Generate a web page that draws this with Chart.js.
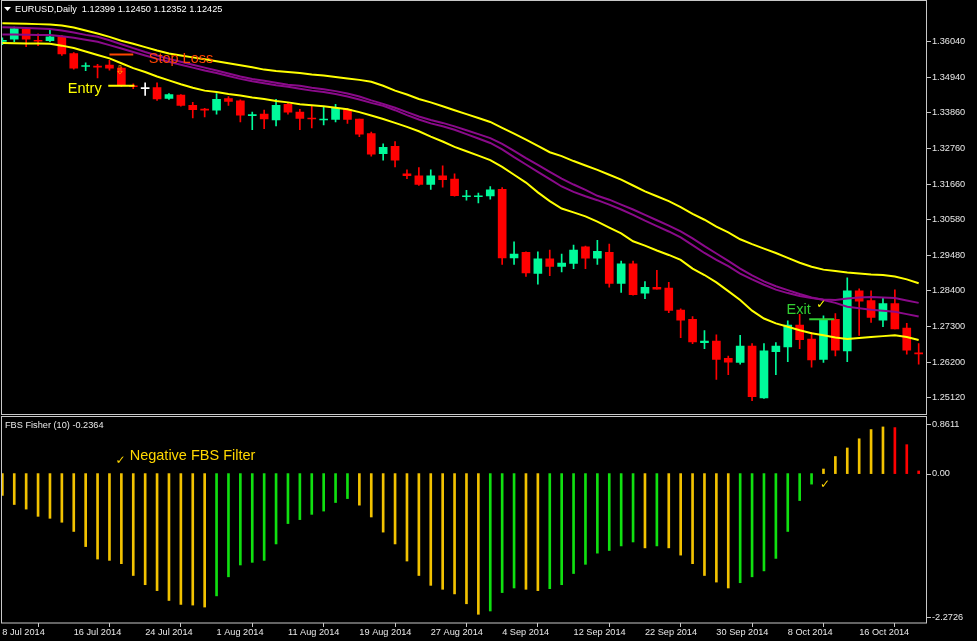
<!DOCTYPE html>
<html>
<head>
<meta charset="utf-8">
<script src="https://cdn.jsdelivr.net/npm/chart.js@4.4.0/dist/chart.umd.min.js"></script>
<style>
  html, body { margin: 0; padding: 0; background: #000; }
  #wrap { position: relative; width: 977px; height: 641px; background: #000; overflow: hidden; }
  canvas { position: absolute; left: 0; }
  #priceChart { top: 0; }
  #fisherChart { top: 415px; }
</style>
</head>
<body>
<div id="wrap">
  <canvas id="priceChart" width="977" height="416"></canvas>
  <canvas id="fisherChart" width="977" height="226"></canvas>
</div>
<script>
// EURUSD daily candles, 8 Jul 2014 - 23 Oct 2014 (one entry per bar)
const openP = [
  1.3604, 1.36105, 1.3642, 1.3606, 1.3606, 1.3618, 1.3567, 1.35271, 1.3528, 1.3531,
  1.3522, 1.3468, 1.3459, 1.3462, 1.3429, 1.34395, 1.3408, 1.3396, 1.3393, 1.3429,
  1.34215, 1.33765, 1.3381, 1.3363, 1.3411, 1.3387, 1.3369, 1.3363, 1.33645, 1.3396,
  1.3366, 1.3321, 1.32595, 1.3282, 1.3198, 1.3192, 1.3165, 1.3192, 1.31815, 1.31275,
  1.31275, 1.31299, 1.3150, 1.2940, 1.29571, 1.2892, 1.2937, 1.29139, 1.29229, 1.29739,
  1.29391, 1.29571, 1.2862, 1.2922, 1.2832, 1.2850, 1.2847, 1.27801, 1.27519, 1.26799,
  1.2685, 1.26319, 1.2619, 1.26691, 1.25101, 1.2652, 1.2667, 1.27339, 1.2691, 1.26289,
  1.27519, 1.2655, 1.28389, 1.28089, 1.27489, 1.27999, 1.2725, 1.2649
];
const highP = [
  1.3615, 1.3648, 1.3645, 1.3627, 1.3639, 1.36225, 1.3570, 1.35385, 1.3534, 1.3546,
  1.3525, 1.3474, 1.3477, 1.3477, 1.3444, 1.3441, 1.3417, 1.3399, 1.3444, 1.3435,
  1.34245, 1.3387, 1.3393, 1.3426, 1.3414, 1.3396, 1.3408, 1.3402, 1.3411, 1.3399,
  1.3366, 1.33255, 1.32895, 1.3297, 1.3210, 1.32169, 1.3210, 1.3222, 1.3198, 1.3147,
  1.31389, 1.3159, 1.3156, 1.29889, 1.29589, 1.29589, 1.2964, 1.2952, 1.2979, 1.2976,
  1.2994, 1.2982, 1.29301, 1.29301, 1.28671, 1.29019, 1.2865, 1.2784, 1.2760, 1.27171,
  1.27039, 1.26391, 1.27021, 1.26769, 1.26769, 1.26799, 1.27471, 1.27669, 1.2712, 1.27621,
  1.2769, 1.28791, 1.28449, 1.28389, 1.28191, 1.28419, 1.2739, 1.26769
];
const lowP = [
  1.3594, 1.3603, 1.3588, 1.3591, 1.3603, 1.3561, 1.3519, 1.35145, 1.3492, 1.3516,
  1.3465, 1.3459, 1.3438, 1.3423, 1.3426, 1.3405, 1.3369, 1.3372, 1.3381, 1.3408,
  1.3357, 1.3333, 1.3336, 1.3345, 1.3381, 1.3333, 1.3339, 1.3348, 1.3357, 1.33525,
  1.3312, 1.3252, 1.3240, 1.3219, 1.3183, 1.3162, 1.3150, 1.31569, 1.3129, 1.3117,
  1.31089, 1.3120, 1.29199, 1.29199, 1.2883, 1.2859, 1.28851, 1.28971, 1.2907, 1.2907,
  1.29199, 1.2850, 1.28341, 1.2826, 1.28149, 1.2844, 1.2772, 1.26949, 1.26769, 1.26619,
  1.25671, 1.25821, 1.26139, 1.2502, 1.25089, 1.25821, 1.2622, 1.26619, 1.26049, 1.2619,
  1.26391, 1.2622, 1.27021, 1.2742, 1.27291, 1.2722, 1.26449, 1.26139
];
const closeP = [
  1.3606, 1.36435, 1.36105, 1.36045, 1.3618, 1.35655, 1.3522, 1.35295, 1.3525, 1.3522,
  1.3468, 1.3465, 1.3459, 1.34275, 1.3441, 1.3408, 1.33945, 1.3393, 1.3426, 1.3420,
  1.3378, 1.33795, 1.3366, 1.3408, 1.3387, 1.33675, 1.3366, 1.3366, 1.3399, 1.33645,
  1.33195, 1.3258, 1.3279, 1.3240, 1.3192, 1.3165, 1.3192, 1.3180, 1.31305, 1.31305,
  1.31305, 1.31491, 1.2940, 1.2952, 1.28941, 1.2937, 1.29139, 1.29241, 1.2964, 1.29391,
  1.29601, 1.2862, 1.2922, 1.28269, 1.2850, 1.2844, 1.27789, 1.27489, 1.2682, 1.2685,
  1.26289, 1.26199, 1.26691, 1.2514, 1.2655, 1.26691, 1.27339, 1.26889, 1.26271, 1.27519,
  1.26571, 1.28389, 1.28071, 1.2757, 1.27999, 1.2722, 1.26569, 1.26451
];

// moving average lines (yellow band + two purple averages)
const yellowUpper = [
  1.3660, 1.36591, 1.36582, 1.3657, 1.36555, 1.36525, 1.36465, 1.36375, 1.36285, 1.3618,
  1.3606, 1.3597, 1.35865, 1.3576, 1.3567, 1.3561, 1.3555, 1.3549, 1.3543, 1.3537,
  1.3531, 1.3525, 1.35175, 1.3513, 1.3510, 1.3507, 1.35025, 1.34995, 1.3495, 1.34905,
  1.3486, 1.3480, 1.3468, 1.3453, 1.3441, 1.34275, 1.3417, 1.3405, 1.3393, 1.3381,
  1.3369, 1.3357, 1.3339, 1.3321, 1.3303, 1.32835, 1.3264, 1.3252, 1.3237, 1.32235,
  1.3210, 1.3195, 1.3180, 1.3162, 1.3144, 1.3129, 1.3114, 1.3096, 1.3075, 1.3057,
  1.3036, 1.3018, 1.2997, 1.2982, 1.29685, 1.2955, 1.2940, 1.2925, 1.2913, 1.2904,
  1.28995, 1.2895, 1.2892, 1.2889, 1.28875, 1.2883, 1.2874, 1.2862
];
const yellowLower = [
  1.35991, 1.35985, 1.35979, 1.35976, 1.3597, 1.3591, 1.35835, 1.3573, 1.35625, 1.3552,
  1.3537, 1.3522, 1.3510, 1.34965, 1.34845, 1.34725, 1.3462, 1.3453, 1.34485, 1.34425,
  1.3438, 1.3432, 1.34275, 1.34215, 1.3417, 1.3411, 1.3408, 1.3405, 1.34005, 1.3396,
  1.3387, 1.33765, 1.3366, 1.3354, 1.3342, 1.33285, 1.3312, 1.3297, 1.32805, 1.3267,
  1.32535, 1.3240, 1.3219, 1.3195, 1.3171, 1.3141, 1.3114, 1.30915, 1.30795, 1.30675,
  1.3051, 1.3033, 1.3015, 1.2991, 1.29775, 1.29625, 1.2949, 1.2934, 1.2907, 1.28875,
  1.2865, 1.2838, 1.2811, 1.2778, 1.2754, 1.2739, 1.27285, 1.2718, 1.2709, 1.2703,
  1.26955, 1.2691, 1.2694, 1.2697, 1.2700, 1.2703, 1.2697, 1.2688
];
const purpleSlow = [
  1.36471, 1.36465, 1.3645, 1.36435, 1.3642, 1.36375, 1.36315, 1.3624, 1.3618, 1.36075,
  1.35955, 1.35835, 1.35715, 1.3561, 1.35505, 1.35415, 1.35325, 1.35235, 1.35145, 1.35055,
  1.34965, 1.3489, 1.3483, 1.3477, 1.3471, 1.3468, 1.3462, 1.34575, 1.34515, 1.3444,
  1.3435, 1.3423, 1.34125, 1.34005, 1.3387, 1.33735, 1.3363, 1.3354, 1.33435, 1.33315,
  1.33195, 1.33075, 1.32895, 1.32685, 1.3246, 1.3225, 1.3204, 1.3183, 1.3165, 1.31485,
  1.31305, 1.31185, 1.31035, 1.30885, 1.3072, 1.30555, 1.3039, 1.3021, 1.3000, 1.2976,
  1.29535, 1.2931, 1.2907, 1.2886, 1.2868, 1.2853, 1.2841, 1.2829, 1.28185, 1.2811,
  1.2802, 1.2790, 1.27855, 1.2781, 1.2778, 1.2775, 1.27675, 1.2760
];
const purpleFast = [
  1.36255, 1.36255, 1.36246, 1.3624, 1.3624, 1.36195, 1.3615, 1.3609, 1.3603, 1.35925,
  1.3582, 1.35715, 1.3561, 1.35505, 1.35415, 1.35325, 1.35235, 1.35145, 1.3507, 1.3498,
  1.3489, 1.34815, 1.34755, 1.34695, 1.3465, 1.3459, 1.3453, 1.34485, 1.34425, 1.3435,
  1.3426, 1.34155, 1.34065, 1.3393, 1.3378, 1.33645, 1.33525, 1.33435, 1.3333, 1.33195,
  1.3306, 1.32925, 1.3273, 1.3249, 1.32265, 1.3204, 1.31815, 1.3159, 1.31425, 1.3129,
  1.3117, 1.31035, 1.30885, 1.3072, 1.3054, 1.30375, 1.3021, 1.3003, 1.2979, 1.2955,
  1.2934, 1.29145, 1.2892, 1.2874, 1.28575, 1.28425, 1.2832, 1.2823, 1.2817, 1.28125,
  1.2811, 1.28155, 1.28185, 1.2820, 1.28185, 1.2817, 1.28095, 1.2802
];

// FBS Fisher histogram and its colour state (Y = yellow, G = green, R = red)
const fisher = [
  -0.33, -0.47, -0.54, -0.65, -0.68, -0.74, -0.88, -1.11, -1.30, -1.32,
  -1.37, -1.55, -1.69, -1.78, -1.93, -1.99, -2.00, -2.03, -1.86, -1.57,
  -1.39, -1.35, -1.32, -1.07, -0.76, -0.70, -0.62, -0.57, -0.44, -0.38,
  -0.48, -0.66, -0.89, -1.07, -1.33, -1.55, -1.70, -1.76, -1.83, -1.98,
  -2.14, -2.09, -1.81, -1.74, -1.76, -1.78, -1.75, -1.69, -1.52, -1.38,
  -1.21, -1.17, -1.10, -1.04, -1.13, -1.10, -1.13, -1.24, -1.37, -1.55,
  -1.65, -1.74, -1.66, -1.57, -1.48, -1.29, -0.88, -0.41, -0.16, 0.07,
  0.26, 0.39, 0.53, 0.67, 0.71, 0.70, 0.44, 0.04
];
const fisherState = (
  'YYYYYYYYYYYYYYYYYY' + 'GGGGGGGGGGGG' + 'YYYYYYYYYYY' + 'GGG' + 'YY' +
  'GGGGGGGG' + 'Y' + 'G' + 'YYYYYY' + 'GGGGGGG' + 'YYYYYY' + 'RRR'
).split('');

// axes
const priceTicks = [1.36040, 1.34940, 1.33860, 1.32760, 1.31660, 1.30580, 1.29480, 1.28400, 1.27300, 1.26200, 1.25120];
const dateTickBars = [0, 6, 12, 18, 24, 30, 36, 42, 48, 54, 60, 66, 72];
const dateTickLabels = ['8 Jul 2014', '16 Jul 2014', '24 Jul 2014', '1 Aug 2014', '11 Aug 2014', '19 Aug 2014',
  '27 Aug 2014', '4 Sep 2014', '12 Sep 2014', '22 Sep 2014', '30 Sep 2014', '8 Oct 2014', '16 Oct 2014'];
const fisherMax = 0.8611, fisherMin = -2.2726;

// trade markers: stop loss, entry, exit (price level and bar span)
const tradeLevel = [1.3564, 1.3468, 1.2752];
const tradeFrom = [9.0, 8.9, 67.8];
const tradeTo = [11.0, 11.1, 69.9];

const X_MIN = -0.03, X_MAX = 77.7;
const FONT = '"Liberation Sans", Arial, sans-serif';
const AXIS_COL = '#c8c8c8';
const TXT_COL = '#e8e8e8';

const pts = arr => arr.map((v, i) => ({ x: i, y: v }));
const candleCol = closeP.map((c, i) => c > openP[i] ? '#00FA9A' : (c < openP[i] ? '#FF0000' : '#FFFFFF'));
const fisherCol = fisherState.map(s => s === 'G' ? '#10E010' : (s === 'R' ? '#FF0000' : '#F2C200'));

const lineDs = (data, color) => ({
  type: 'line', data: pts(data), borderColor: color, borderWidth: 2,
  pointRadius: 0, tension: 0, order: 0
});
const levelDs = (k, color) => ({
  type: 'line', data: [{ x: tradeFrom[k], y: tradeLevel[k] }, { x: tradeTo[k], y: tradeLevel[k] }],
  borderColor: color, borderWidth: 2, pointRadius: 0, order: 0
});

const priceNotes = {
  id: 'priceNotes',
  afterDatasetsDraw(chart) {
    const { ctx, scales: { x, y } } = chart;
    ctx.save();
    ctx.strokeStyle = AXIS_COL;
    ctx.lineWidth = 1;
    ctx.strokeRect(1.5, 0.5, 925, 414);
    // header
    ctx.fillStyle = '#fff';
    ctx.beginPath();
    ctx.moveTo(4, 7); ctx.lineTo(11, 7); ctx.lineTo(7.5, 11); ctx.closePath(); ctx.fill();
    ctx.font = '9.2px ' + FONT;
    ctx.textBaseline = 'middle';
    ctx.fillText('EURUSD,Daily  1.12399 1.12450 1.12352 1.12425', 15, 9.5);
    // annotations
    ctx.font = '14.5px ' + FONT;
    ctx.fillStyle = '#FF4500';
    ctx.fillText('Stop Loss', x.getPixelForValue(12.3), y.getPixelForValue(1.3549));
    ctx.fillStyle = '#FFFF00';
    ctx.fillText('Entry', x.getPixelForValue(5.5), y.getPixelForValue(1.3459));
    ctx.fillStyle = '#32CD32';
    ctx.fillText('Exit', x.getPixelForValue(65.9), y.getPixelForValue(1.2781));
    ctx.font = '12px "DejaVu Sans"';
    ctx.fillStyle = '#FFFF00';
    ctx.fillText('\u2713', x.getPixelForValue(68.4), y.getPixelForValue(1.2796));
    ctx.fillStyle = '#FFA500';
    ctx.textAlign = 'center';
    ctx.fillText('\u21E9', x.getPixelForValue(9.9), y.getPixelForValue(1.3513));
    ctx.restore();
  }
};

new Chart(document.getElementById('priceChart'), {
  type: 'bar',
  data: {
    datasets: [
      lineDs(yellowUpper, '#FFFF00'),
      lineDs(purpleSlow, '#8A0A8A'),
      lineDs(purpleFast, '#8A0A8A'),
      lineDs(yellowLower, '#FFFF00'),
      levelDs(0, '#FF4500'),
      levelDs(1, '#FFFF00'),
      levelDs(2, '#32CD32'),
      {
        label: 'body', data: openP.map((o, i) => ({ x: i, y: [o, closeP[i]] })),
        backgroundColor: candleCol, barThickness: 8, minBarLength: 1, grouped: false, order: 1
      },
      {
        label: 'wick', data: lowP.map((l, i) => ({ x: i, y: [l, highP[i]] })),
        backgroundColor: candleCol, barThickness: 1, grouped: false, order: 2
      }
    ]
  },
  options: {
    responsive: false,
    animation: false,
    events: [],
    layout: { padding: { left: 2, top: 2, bottom: 2, right: 0 } },
    plugins: { legend: { display: false }, tooltip: { enabled: false } },
    scales: {
      x: { type: 'linear', display: false, min: X_MIN, max: X_MAX, offset: false },
      y: {
        position: 'right', min: 1.2475, max: 1.3711, beginAtZero: false,
        afterFit: s => { s.width = 50; },
        afterBuildTicks: s => { s.ticks = priceTicks.map(v => ({ value: v })); },
        ticks: {
          color: TXT_COL, padding: 1, autoSkip: false,
          font: { family: FONT, size: 9.2 },
          callback: v => v.toFixed(5)
        },
        grid: { drawOnChartArea: false, drawTicks: true, tickLength: 4, color: AXIS_COL },
        border: { display: false }
      }
    }
  },
  plugins: [priceNotes]
});

const fisherNotes = {
  id: 'fisherNotes',
  afterDatasetsDraw(chart) {
    const { ctx, scales: { x, y } } = chart;
    ctx.save();
    ctx.strokeStyle = AXIS_COL;
    ctx.lineWidth = 1;
    ctx.strokeRect(1.5, 1.5, 925, 206.5);
    ctx.fillStyle = TXT_COL;
    ctx.textBaseline = 'middle';
    ctx.font = '9.2px ' + FONT;
    ctx.fillText('FBS Fisher (10) -0.2364', 5, 10.5);
    // right scale labels (MT4 keeps min/max labels inside the panel)
    const labs = [[fisherMax.toFixed(4), y.getPixelForValue(fisherMax) + 7],
                  ['0.00', y.getPixelForValue(0)],
                  [fisherMin.toFixed(4), y.getPixelForValue(fisherMin) - 6]];
    labs.forEach(([t, py]) => {
      ctx.beginPath();
      ctx.moveTo(927, Math.round(py) + 0.5); ctx.lineTo(931, Math.round(py) + 0.5); ctx.stroke();
      ctx.fillText(t, 932, py);
    });
    ctx.font = '14.5px ' + FONT;
    ctx.fillStyle = '#FFD700';
    ctx.fillText('Negative FBS Filter', x.getPixelForValue(10.7), y.getPixelForValue(0.27));
    ctx.font = '12px "DejaVu Sans"';
    ctx.fillText('\u2713', x.getPixelForValue(9.5), y.getPixelForValue(0.2));
    ctx.fillText('\u2713', x.getPixelForValue(68.7), y.getPixelForValue(-0.17));
    ctx.restore();
  }
};

new Chart(document.getElementById('fisherChart'), {
  type: 'bar',
  data: {
    datasets: [{
      label: 'FBS Fisher', data: pts(fisher), backgroundColor: fisherCol,
      barThickness: 2, grouped: false
    }]
  },
  options: {
    responsive: false,
    animation: false,
    events: [],
    layout: { padding: { left: 2, top: 2, bottom: 0, right: 0 } },
    plugins: { legend: { display: false }, tooltip: { enabled: false } },
    scales: {
      x: {
        type: 'linear', min: X_MIN, max: X_MAX, offset: false, position: 'bottom',
        afterFit: s => { s.height = 18; },
        afterBuildTicks: s => { s.ticks = dateTickBars.map(v => ({ value: v })); },
        ticks: {
          color: TXT_COL, padding: 0, autoSkip: false, maxRotation: 0, align: 'start',
          font: { family: FONT, size: 9.2 },
          callback: v => dateTickLabels[dateTickBars.indexOf(v)]
        },
        grid: { drawOnChartArea: false, drawTicks: true, tickLength: 4, color: AXIS_COL },
        border: { display: false }
      },
      y: {
        position: 'right', min: fisherMin, max: fisherMax, beginAtZero: false,
        afterFit: s => { s.width = 50; },
        ticks: { display: false },
        grid: { display: false },
        border: { display: false }
      }
    }
  },
  plugins: [fisherNotes]
});
</script>
</body>
</html>
